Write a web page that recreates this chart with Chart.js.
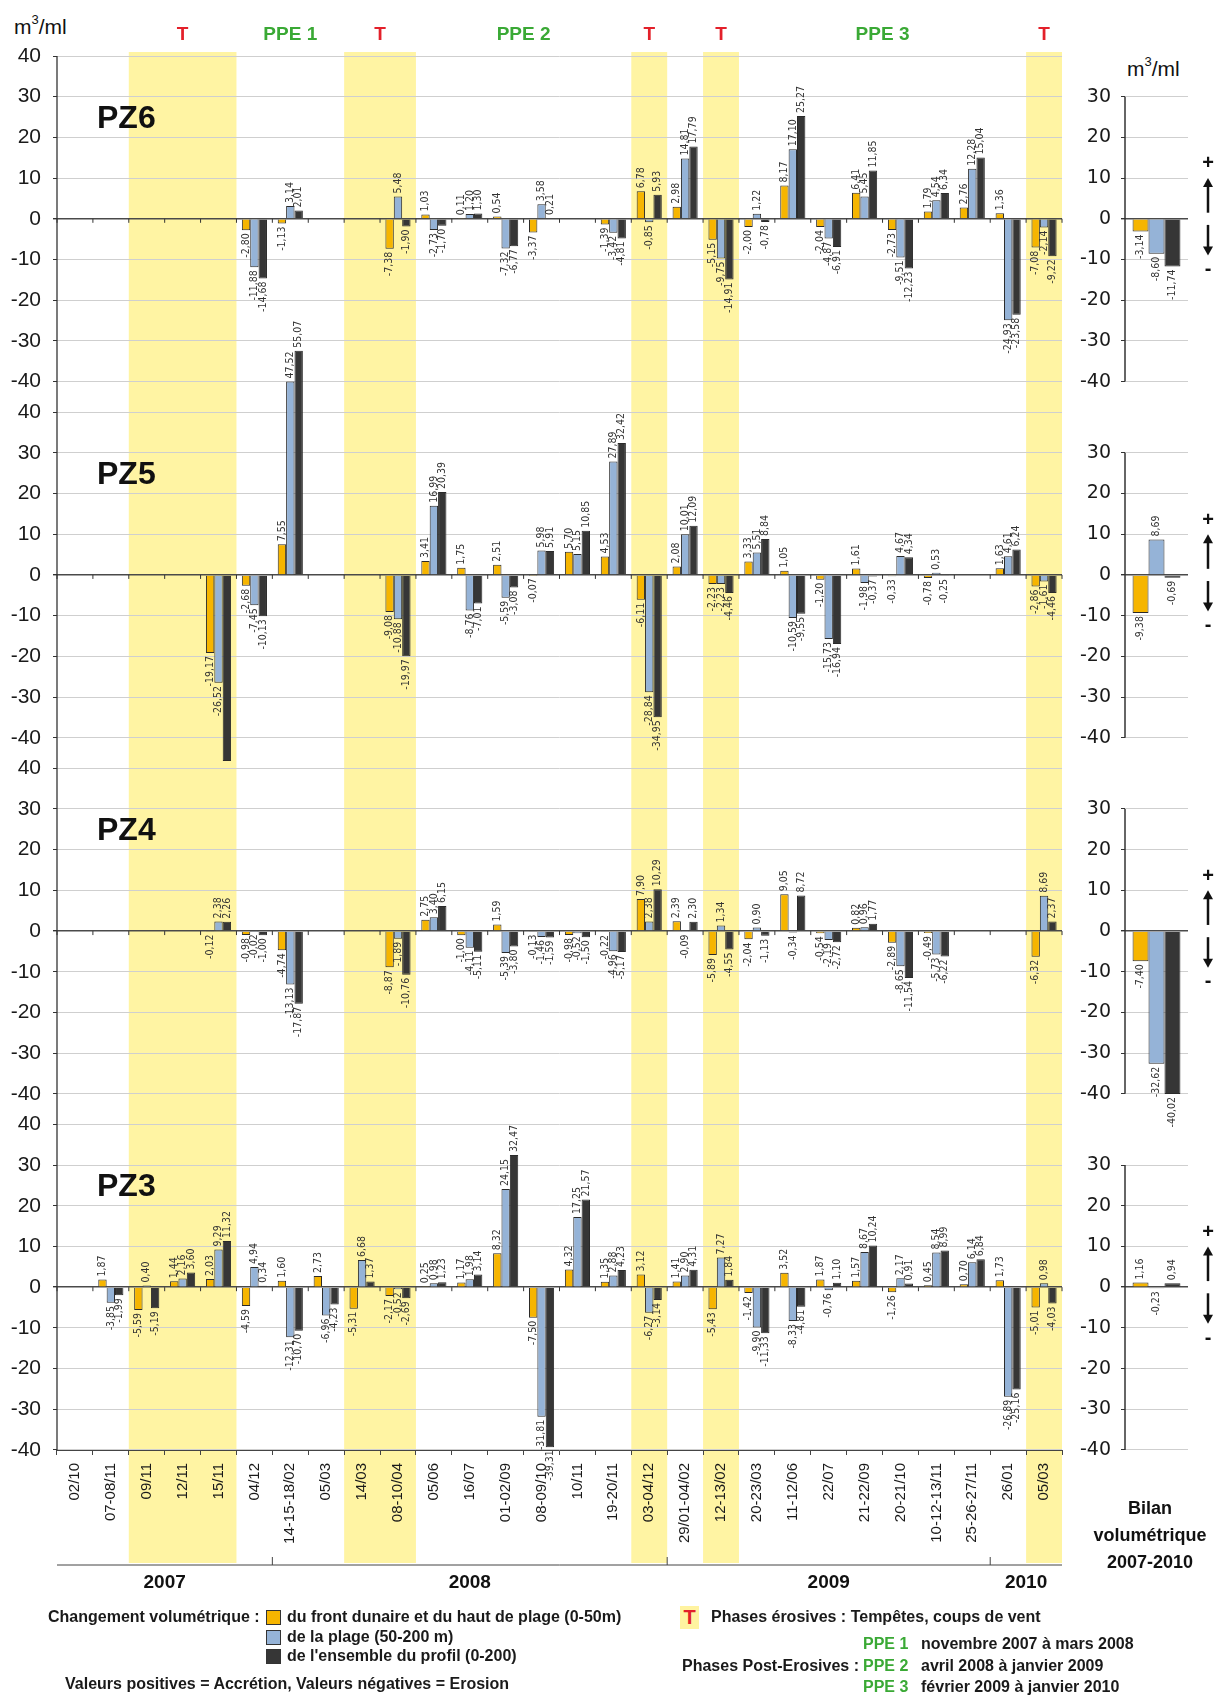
<!DOCTYPE html>
<html lang="fr">
<head>
<meta charset="UTF-8">
<title>Changements volumétriques PZ3 - PZ6 (2007-2010)</title>
<script src="https://cdn.jsdelivr.net/npm/chart.js@4.4.1/dist/chart.umd.min.js"></script>
<style>
    body { margin: 0; background: #fff; }
    #page { position: relative; width: 1223px; height: 1698px; overflow: hidden; background: #fff;
            font-family: "Liberation Sans", Arial, sans-serif; color: #111; }
    .unit { position: absolute; font-size: 21px; line-height: 24px; white-space: nowrap; }
    .unit sup { font-size: 13px; position: relative; top: -2px; }
    #mainWrap { position: absolute; left: 0; top: 0; width: 1075px; height: 1610px; }
    #bilanWrap { position: absolute; left: 1068px; top: 0; width: 155px; height: 1610px; }
    .lg { position: absolute; font-family: "Liberation Sans", Arial, sans-serif;
          font-size: 16px; line-height: 22px; font-weight: bold; white-space: nowrap; color: #1a1a1a; }
    .ppe { color: #3aa935; }
    .sw { position: absolute; width: 13px; height: 13px; border: 1px solid #333; }
    .tbox { position: absolute; width: 19px; height: 23px; background: #fff3a0; color: #e3202a;
            font: bold 20px/23px "Liberation Sans", Arial, sans-serif; text-align: center; }
</style>
</head>
<body>
<div id="page">
    <div class="unit" style="left:14px;top:10px;">m<sup>3</sup>/ml</div>
    <div class="unit" style="left:1127px;top:52px;">m<sup>3</sup>/ml</div>

    <div id="mainWrap"><canvas id="mainChart" width="1075" height="1610"></canvas></div>
    <div id="bilanWrap"><canvas id="bilanChart" width="155" height="1610"></canvas></div>

    <div class="lg" style="left:48px;top:1606px;">Changement volumétrique :</div>
    <div class="sw" style="left:266px;top:1610px;background:#f6b500;"></div>
    <div class="lg" style="left:287px;top:1606px;">du front dunaire et du haut de plage (0-50m)</div>
    <div class="sw" style="left:266px;top:1630px;background:#95b3d7;"></div>
    <div class="lg" style="left:287px;top:1626px;">de la plage (50-200 m)</div>
    <div class="sw" style="left:266px;top:1649px;background:#363636;"></div>
    <div class="lg" style="left:287px;top:1645px;">de l'ensemble du profil (0-200)</div>
    <div class="lg" style="left:65px;top:1673px;">Valeurs positives = Accrétion, Valeurs négatives = Erosion</div>

    <div class="tbox" style="left:680px;top:1606px;">T</div>
    <div class="lg" style="left:711px;top:1606px;">Phases érosives : Tempêtes, coups de vent</div>
    <div class="lg ppe" style="left:863px;top:1633px;">PPE 1</div>
    <div class="lg" style="left:921px;top:1633px;">novembre 2007 à mars 2008</div>
    <div class="lg" style="left:682px;top:1655px;">Phases Post-Erosives :</div>
    <div class="lg ppe" style="left:863px;top:1655px;">PPE 2</div>
    <div class="lg" style="left:921px;top:1655px;">avril 2008 à janvier 2009</div>
    <div class="lg ppe" style="left:863px;top:1676px;">PPE 3</div>
    <div class="lg" style="left:921px;top:1676px;">février 2009 à janvier 2010</div>
</div>

<script>
// dates des levés (le premier levé n'a pas de changement)
const dates = ['02/10', '07-08/11', '09/11', '12/11', '15/11', '04/12', '14-15-18/02', '05/03', '14/03', '08-10/04',
    '05/06', '16/07', '01-02/09', '08-09/10', '10/11', '19-20/11', '03-04/12', '29/01-04/02', '12-13/02', '20-23/03',
    '11-12/06', '22/07', '21-22/09', '20-21/10', '10-12-13/11', '25-26-27/11', '26/01', '05/03'];

const years = ['2007', '2008', '2009', '2010'];
const yearSpans = [[0, 5], [6, 16], [17, 25], [26, 27]];
const stormSpans = [[2, 4], [8, 9], [16, 16], [18, 18], [27, 27]];
const ppeLabels = ['PPE 1', 'PPE 2', 'PPE 3'];
const ppeSpans = [[5, 7], [10, 15], [19, 26]];

const panelIds = ['PZ6', 'PZ5', 'PZ4', 'PZ3'];
const yMin = -40, yMax = 40, yStep = 10, bilanTop = 30;

// changement volumétrique (m3/ml) : front dunaire / plage / ensemble du profil
const _ = null;
const pz6Front = [_, _, _, _, _, -2.80, -1.13, _, _, -7.38, 1.03, 0.11, 0.54, -3.37, _, -1.39, 6.78, 2.98, -5.15, -2.00, 8.17, -2.04, 6.41, -2.73, 1.79, 2.76, 1.36, -7.08];
const pz6Plage = [_, _, _, _, _, -11.88, 3.14, _, _, 5.48, -2.73, 1.20, -7.32, 3.58, _, -3.42, -0.85, 14.81, -9.75, 1.22, 17.10, -4.87, 5.45, -9.51, 4.54, 12.28, -24.93, -2.14];
const pz6Total = [_, _, _, _, _, -14.68, 2.01, _, _, -1.90, -1.70, 1.30, -6.77, 0.21, _, -4.81, 5.93, 17.79, -14.91, -0.78, 25.27, -6.91, 11.85, -12.23, 6.34, 15.04, -23.58, -9.22];

const pz5Front = [_, _, _, _, -19.17, -2.68, 7.55, _, _, -9.08, 3.41, 1.75, 2.51, -0.07, 5.70, 4.53, -6.11, 2.08, -2.23, 3.33, 1.05, -1.20, 1.61, -0.33, -0.78, _, 1.63, -2.86];
const pz5Plage = [_, _, _, _, -26.52, -7.45, 47.52, _, _, -10.88, 16.99, -8.76, -5.59, 5.98, 5.15, 27.89, -28.84, 10.01, -2.23, 5.51, -10.59, -15.73, -1.98, 4.67, 0.53, _, 4.61, -1.61];
const pz5Total = [_, _, _, _, -45.69, -10.13, 55.07, _, _, -19.97, 20.39, -7.01, -3.08, 5.91, 10.85, 32.42, -34.95, 12.09, -4.46, 8.84, -9.55, -16.94, -0.37, 4.34, -0.25, _, 6.24, -4.46];

const pz4Front = [_, _, _, _, -0.12, -0.98, -4.74, _, _, -8.87, 2.75, -1.00, 1.59, -0.13, -0.98, -0.22, 7.90, 2.39, -5.89, -2.04, 9.05, -0.54, 0.82, -2.89, -0.49, _, _, -6.32];
const pz4Plage = [_, _, _, _, 2.38, -0.02, -13.13, _, _, -1.89, 3.40, -4.11, -5.39, -1.46, -0.52, -4.96, 2.38, -0.09, 1.34, 0.90, -0.34, -2.19, 0.96, -8.65, -5.73, _, _, 8.69];
const pz4Total = [_, _, _, _, 2.26, -1.00, -17.87, _, _, -10.76, 6.15, -5.11, -3.80, -1.59, -1.50, -5.17, 10.29, 2.30, -4.55, -1.13, 8.72, -2.72, 1.77, -11.54, -6.22, _, _, 2.37];

const pz3Front = [_, 1.87, -5.59, 1.44, 2.03, -4.59, 1.60, 2.73, -5.31, -2.17, 0.25, 1.17, 8.32, -7.50, 4.32, 1.35, 3.12, 1.41, -5.43, -1.42, 3.52, 1.87, 1.57, -1.26, 0.45, 0.70, 1.73, -5.01];
const pz3Plage = [_, -3.85, 0.40, 2.16, 9.29, 4.94, -12.31, -6.96, 6.68, -0.52, 0.98, 1.98, 24.15, -31.81, 17.25, 2.88, -6.27, 2.90, 7.27, -9.90, -8.33, -0.76, 8.67, 2.17, 8.54, 6.14, -26.89, 0.98];
const pz3Total = [_, -1.99, -5.19, 3.60, 11.32, 0.34, -10.70, -4.23, 1.37, -2.69, 1.23, 3.14, 32.47, -39.31, 21.57, 4.23, -3.14, 4.31, 1.84, -11.33, -4.81, 1.10, 10.24, 0.91, 8.99, 6.84, -25.16, -4.03];

// bilan volumétrique 2007-2010, dans l'ordre PZ6, PZ5, PZ4, PZ3
const bilanFront = [-3.14, -9.38, -7.40, 1.16];
const bilanPlage = [-8.60, 8.69, -32.62, -0.23];
const bilanTotal = [-11.74, -0.69, -40.02, 0.94];

const seriesNames = ['front dunaire (0-50m)', 'plage (50-200 m)', 'profil (0-200)'];
const seriesStacks = ['front', 'plage', 'profil'];
const seriesColors = ['#f6b500', '#95b3d7', '#363636'];
const bandColor = '#fff4a3';

const sansFont = '"Liberation Sans", Arial, sans-serif';
const narrowFont = '"Liberation Sans Narrow", "DejaVu Sans Condensed", "Liberation Sans", sans-serif';

const panelSeries = {
    PZ6: [pz6Front, pz6Plage, pz6Total],
    PZ5: [pz5Front, pz5Plage, pz5Total],
    PZ4: [pz4Front, pz4Plage, pz4Total],
    PZ3: [pz3Front, pz3Plage, pz3Total]
};
const bilanSeries = [bilanFront, bilanPlage, bilanTotal];

function fmt(v) {
    return v.toFixed(2).replace('.', ',');
}

function line(ctx, x1, y1, x2, y2) {
    ctx.beginPath();
    ctx.moveTo(x1, y1);
    ctx.lineTo(x2, y2);
    ctx.stroke();
}

// étiquettes de valeur verticales au bout des barres
const valueLabels = {
    id: 'valueLabels',
    afterDatasetsDraw(chart) {
        const ctx = chart.ctx;
        ctx.save();
        ctx.font = '10.5px ' + narrowFont;
        ctx.fillStyle = '#333';
        ctx.textBaseline = 'middle';
        chart.data.datasets.forEach((ds, di) => {
            const meta = chart.getDatasetMeta(di);
            const ys = chart.scales[ds.yAxisID];
            meta.data.forEach((bar, i) => {
                const v = ds.data[i];
                // pas d'étiquette si la barre déborde largement sous l'axe
                if (v === null || v === undefined || v < ys.min - 1) return;
                ctx.save();
                ctx.translate(bar.x, v >= 0 ? bar.y - 3 : bar.y + 3);
                ctx.rotate(-Math.PI / 2);
                ctx.textAlign = v >= 0 ? 'left' : 'right';
                ctx.fillText(fmt(v), 0, 0);
                ctx.restore();
            });
        });
        ctx.restore();
    }
};

// bandes jaunes (phases érosives), en-têtes, titres des profils, années
const mainDecor = {
    id: 'mainDecor',
    beforeDraw(chart) {
        const {ctx, chartArea} = chart;
        const x = chart.scales.x;
        ctx.save();
        ctx.fillStyle = bandColor;
        stormSpans.forEach(([a, b]) => {
            const l = x.getPixelForValue(a - 0.5);
            const r = x.getPixelForValue(b + 0.5);
            ctx.fillRect(l, chartArea.top - 4, r - l, chartArea.bottom - chartArea.top + 117);
        });
        ctx.restore();
    },
    afterDraw(chart) {
        const {ctx, chartArea} = chart;
        const x = chart.scales.x;
        ctx.save();

        // en-têtes T / PPE
        ctx.textAlign = 'center';
        ctx.textBaseline = 'middle';
        ctx.font = 'bold 19px ' + sansFont;
        ctx.fillStyle = '#e3202a';
        stormSpans.forEach(([a, b]) => {
            ctx.fillText('T', (x.getPixelForValue(a - 0.5) + x.getPixelForValue(b + 0.5)) / 2, chartArea.top - 21);
        });
        ctx.fillStyle = '#3aa935';
        ppeSpans.forEach(([a, b], i) => {
            ctx.fillText(ppeLabels[i], (x.getPixelForValue(a - 0.5) + x.getPixelForValue(b + 0.5)) / 2, chartArea.top - 21);
        });

        // axe vertical continu
        ctx.strokeStyle = '#333';
        ctx.lineWidth = 1.3;
        line(ctx, chartArea.left, chartArea.top, chartArea.left, chartArea.bottom);

        // titres des profils + petites graduations sur la ligne zéro
        ctx.lineWidth = 1;
        panelIds.forEach(p => {
            const ys = chart.scales['y' + p];
            const y0 = ys.getPixelForValue(0);
            for (let i = 0; i <= dates.length; i++) {
                const px = x.getPixelForValue(i - 0.5);
                line(ctx, px, y0, px, y0 + 4);
            }
            ctx.fillStyle = '#111';
            ctx.font = 'bold 32px ' + sansFont;
            ctx.textAlign = 'left';
            ctx.fillText(p, chartArea.left + 40, ys.getPixelForValue(24.5));
        });

        // ligne des années
        const lineY = chartArea.bottom + 115;
        ctx.strokeStyle = '#444';
        line(ctx, chartArea.left, lineY, chartArea.right, lineY);
        ctx.font = 'bold 19px ' + sansFont;
        ctx.textAlign = 'center';
        ctx.fillStyle = '#111';
        yearSpans.forEach(([a, b], i) => {
            const l = x.getPixelForValue(a - 0.5);
            const r = x.getPixelForValue(b + 0.5);
            if (i < yearSpans.length - 1) line(ctx, r, lineY, r, lineY - 8);
            ctx.fillText(years[i], (l + r) / 2, lineY + 18);
        });
        ctx.restore();
    }
};

// axes du bilan, flèches +/- et titre
const bilanDecor = {
    id: 'bilanDecor',
    afterDraw(chart) {
        const {ctx, chartArea} = chart;
        ctx.save();
        panelIds.forEach(p => {
            const ys = chart.scales['y' + p];
            ctx.strokeStyle = '#333';
            ctx.lineWidth = 1.5;
            line(ctx, chartArea.left, ys.getPixelForValue(bilanTop), chartArea.left, ys.getPixelForValue(yMin));

            const ax = chartArea.right + 20;
            const up = ys.getPixelForValue(10), down = ys.getPixelForValue(-9);
            ctx.strokeStyle = '#111';
            ctx.fillStyle = '#111';
            ctx.lineWidth = 2.5;
            line(ctx, ax, ys.getPixelForValue(1.5), ax, up + 6);
            line(ctx, ax, ys.getPixelForValue(-1.5), ax, down - 6);
            ctx.beginPath();
            ctx.moveTo(ax, up); ctx.lineTo(ax - 5, up + 9); ctx.lineTo(ax + 5, up + 9); ctx.closePath(); ctx.fill();
            ctx.beginPath();
            ctx.moveTo(ax, down); ctx.lineTo(ax - 5, down - 9); ctx.lineTo(ax + 5, down - 9); ctx.closePath(); ctx.fill();
            ctx.font = 'bold 20px ' + sansFont;
            ctx.textAlign = 'center';
            ctx.textBaseline = 'middle';
            ctx.fillText('+', ax, ys.getPixelForValue(13.5));
            ctx.fillText('-', ax, ys.getPixelForValue(-12.5));
        });
        ctx.fillStyle = '#111';
        ctx.font = 'bold 18px ' + sansFont;
        ctx.textAlign = 'center';
        ctx.textBaseline = 'middle';
        ['Bilan', 'volumétrique', '2007-2010'].forEach((t, i) => {
            ctx.fillText(t, chartArea.left + 25, chartArea.bottom + 59 + 27 * i);
        });
        ctx.restore();
    }
};

function panelScale(weight, width, bilan) {
    return {
        type: 'linear',
        position: 'left',
        stack: 'panels',
        stackWeight: 80,
        weight: weight,
        stacked: false,
        min: yMin,
        max: yMax,
        afterFit: s => { s.width = width; },
        border: { display: false },
        grid: {
            color: c => (bilan && c.tick.value > bilanTop) ? 'rgba(0,0,0,0)' : (c.tick.value === 0 ? '#4a4a4a' : '#cfcfcf'),
            tickColor: c => (bilan && c.tick.value > bilanTop) ? 'rgba(0,0,0,0)' : '#333',
            lineWidth: c => c.tick.value === 0 ? 1.4 : 1,
            tickLength: 4
        },
        ticks: {
            stepSize: yStep,
            autoSkip: false,
            maxTicksLimit: 20,
            padding: bilan ? 10 : 12,
            color: '#1a1a1a',
            font: { size: bilan ? 19 : 21, family: bilan ? '"DejaVu Sans", sans-serif' : sansFont },
            callback: v => (bilan && v > bilanTop) ? '' : v
        }
    };
}

function gapScale(weight) {
    return { type: 'linear', position: 'left', stack: 'panels', stackWeight: 7.5, weight: weight, display: false };
}

function buildScales(xScale, width, bilan) {
    const scales = { x: xScale };
    panelIds.forEach((p, i) => {
        scales['y' + p] = panelScale(20 - 2 * i, width, bilan);
        if (i < panelIds.length - 1) scales['gap' + i] = gapScale(19 - 2 * i);
    });
    return scales;
}

// graphique principal
const mainDatasets = [];
panelIds.forEach(p => {
    panelSeries[p].forEach((values, k) => {
        mainDatasets.push({
            label: p + ' ' + seriesNames[k],
            data: values,
            yAxisID: 'y' + p,
            stack: seriesStacks[k],
            backgroundColor: seriesColors[k],
            borderColor: '#2a2a2a',
            borderWidth: 1,
            clip: false,
            categoryPercentage: 0.7,
            barPercentage: 1.0
        });
    });
});

new Chart(document.getElementById('mainChart'), {
    type: 'bar',
    data: { labels: dates, datasets: mainDatasets },
    options: {
        responsive: false,
        animation: false,
        events: [],
        layout: { padding: { top: 56, bottom: 30, left: 0, right: 13 } },
        plugins: { legend: { display: false }, tooltip: { enabled: false } },
        scales: buildScales({
            type: 'category',
            position: 'bottom',
            offset: true,
            afterFit: s => { s.height = 130; },
            border: { display: true, color: '#444' },
            grid: { display: true, offset: true, drawOnChartArea: false, tickLength: 5, color: '#444' },
            ticks: { autoSkip: false, minRotation: 90, maxRotation: 90, padding: 8, color: '#1a1a1a',
                     font: { size: 15, family: sansFont } }
        }, 57, false)
    },
    plugins: [mainDecor, valueLabels]
});

// bilan 2007-2010
const bilanDatasets = [];
panelIds.forEach((p, j) => {
    bilanSeries.forEach((values, k) => {
        bilanDatasets.push({
            label: p + ' bilan ' + seriesNames[k],
            data: [values[j]],
            yAxisID: 'y' + p,
            stack: seriesStacks[k],
            backgroundColor: seriesColors[k],
            borderColor: '#2a2a2a',
            borderWidth: 1,
            clip: false,
            categoryPercentage: 0.76,
            barPercentage: 1.0
        });
    });
});

new Chart(document.getElementById('bilanChart'), {
    type: 'bar',
    data: { labels: ['Bilan'], datasets: bilanDatasets },
    options: {
        responsive: false,
        animation: false,
        events: [],
        layout: { padding: { top: 56, bottom: 30, left: 0, right: 35 } },
        plugins: { legend: { display: false }, tooltip: { enabled: false } },
        scales: buildScales({
            type: 'category',
            position: 'bottom',
            offset: true,
            afterFit: s => { s.height = 130; },
            border: { display: false },
            grid: { display: false },
            ticks: { display: false }
        }, 57, true)
    },
    plugins: [bilanDecor, valueLabels]
});
</script>
</body>
</html>
